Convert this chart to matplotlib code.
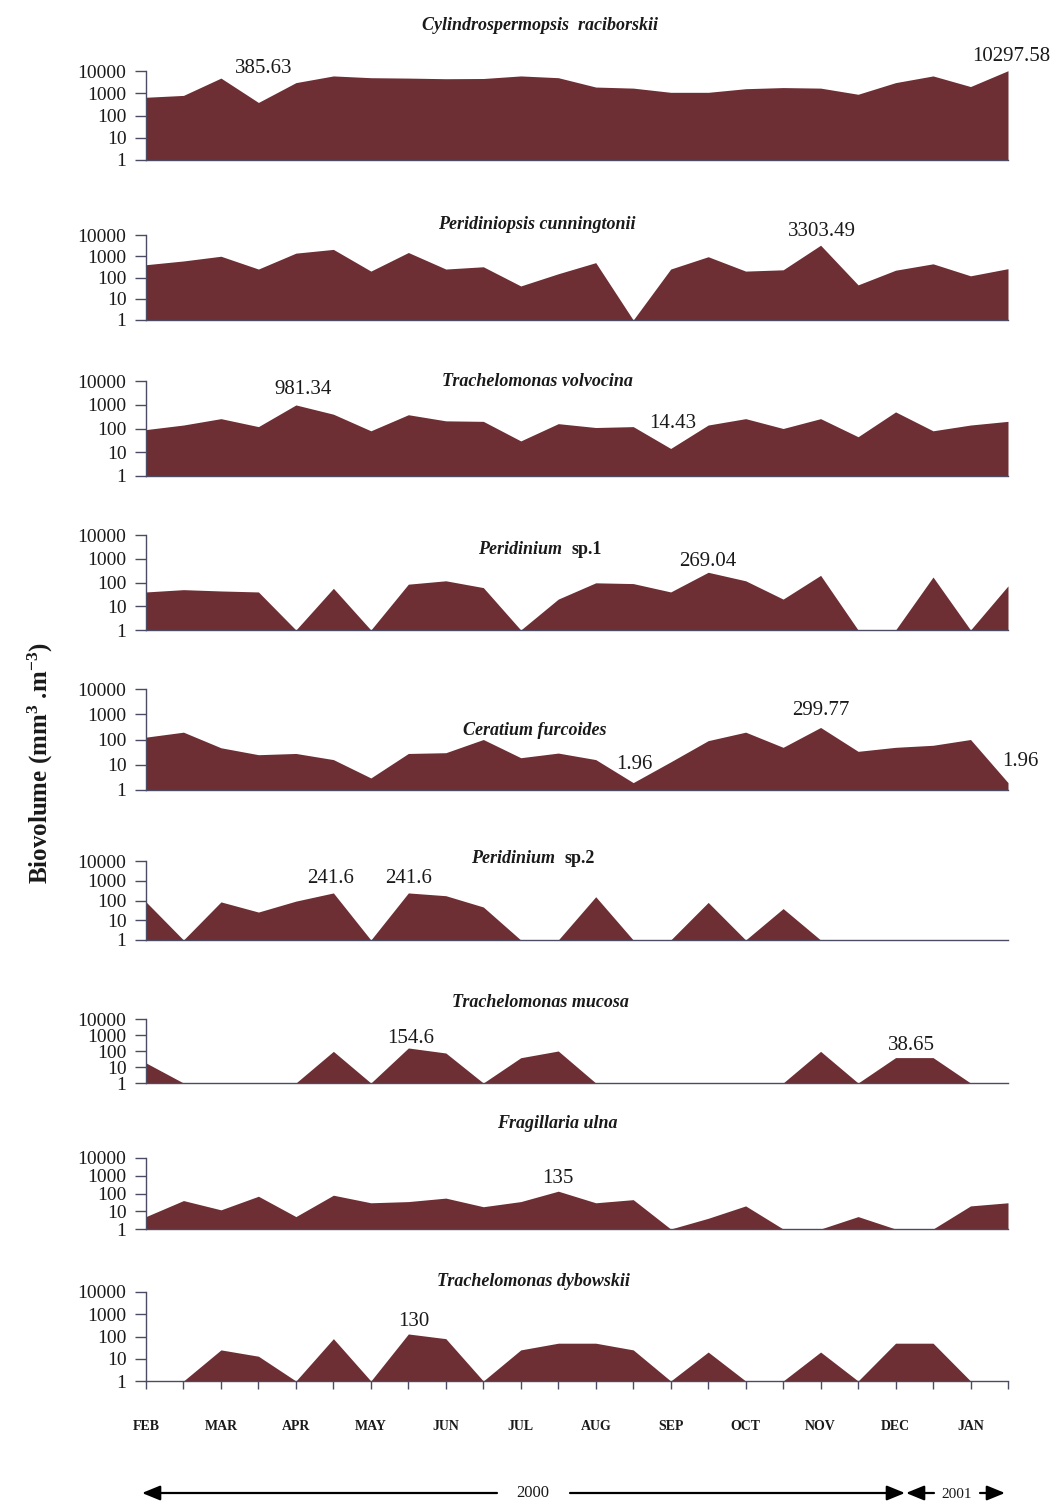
import matplotlib
matplotlib.use("Agg")
import matplotlib.pyplot as plt
from matplotlib.ticker import FixedLocator, FixedFormatter, NullLocator

plt.rcParams['font.family'] = ['Liberation Serif', 'DejaVu Serif']
plt.rcParams['mathtext.fontset'] = 'custom'
plt.rcParams['mathtext.rm'] = 'Liberation Serif'
plt.rcParams['mathtext.it'] = 'Liberation Serif:italic'
plt.rcParams['mathtext.bf'] = 'Liberation Serif:bold'

# Sampling dates: two per month, Feb 2000 - Jan 2001
months = ["FEB", "MAR", "APR", "MAY", "JUN", "JUL", "AUG", "SEP", "OCT", "NOV", "DEC", "JAN"]
samples = list(range(24))

# Biovolume (mm3 m-3) per sample; 1 marks absence on the log axis
cylindrospermopsis = [660, 800, 4800, 385.63, 3000, 6000, 5000, 4800, 4500, 4600, 6000, 5000,
                      1900, 1700, 1100, 1100, 1600, 1800, 1700, 900, 3000, 6000, 2000, 10297.58]
peridiniopsis = [400, 600, 1000, 250, 1400, 2100, 200, 1500, 250, 320, 40, 150,
                 500, 1, 250, 950, 200, 230, 3303.49, 45, 220, 440, 120, 260]
trach_volvocina = [90, 140, 260, 120, 981.34, 400, 80, 380, 210, 200, 30, 160,
                   110, 120, 14.43, 140, 260, 100, 260, 45, 500, 80, 140, 200]
peridinium_sp1 = [40, 50, 44, 40, 1, 57, 1, 85, 118, 61, 1, 20,
                  97, 90, 40, 269.04, 118, 20, 200, 1, 1, 170, 1, 72]
ceratium = [124, 195, 47, 25, 28, 16, 3, 28, 30, 100, 19, 29,
            16, 1.96, 13, 90, 195, 49, 299.77, 34, 49, 59, 100, 1.96]
peridinium_sp2 = [85, 1, 85, 26, 93, 241.6, 1, 241.6, 175, 47, 1, 1,
                  155, 1, 1, 80, 1, 39, 1, 1, 1, 1, 1, 1]
trach_mucosa = [18, 1, 1, 1, 1, 95, 1, 154.6, 75, 1, 38, 100,
                1, 1, 1, 1, 1, 1, 95, 1, 38.65, 38.65, 1, 1]
fragillaria = [5, 40, 12, 70, 5, 80, 30, 35, 55, 18, 35, 135,
               30, 45, 1, 4, 20, 1, 1, 5, 1, 1, 20, 30]
trach_dybowskii = [1, 1, 25, 13, 1, 80, 1, 130, 80, 1, 25, 50,
                   50, 25, 1, 20, 1, 1, 20, 1, 50, 50, 1, 1]

# Species names: (italic part, upright part)
titles = [("Cylindrospermopsis  raciborskii", ""),
          ("Peridiniopsis cunningtonii", ""),
          ("Trachelomonas volvocina", ""),
          ("Peridinium", "sp.1"),
          ("Ceratium furcoides", ""),
          ("Peridinium", "sp.2"),
          ("Trachelomonas mucosa", ""),
          ("Fragillaria ulna", ""),
          ("Trachelomonas dybowskii", "")]
series = [cylindrospermopsis, peridiniopsis, trach_volvocina, peridinium_sp1, ceratium,
          peridinium_sp2, trach_mucosa, fragillaria, trach_dybowskii]

# Annotated values per panel: (sample index, value, offset in pixels)
annotations = [
    [(3, 385.63, (5, 34)), (23, 10297.58, (3, 14))],
    [(18, 3303.49, (1, 14))],
    [(4, 981.34, (7, 15)), (14, 14.43, (2, 25))],
    [(15, 269.04, (0, 11))],
    [(18, 299.77, (0, 17)), (13, 1.96, (1, 18)), (23, 1.96, (12, 21))],
    [(5, 241.6, (-3, 14)), (7, 241.6, (0, 14))],
    [(7, 154.6, (2, 9)), (20, 38.65, (16, 12))],
    [(11, 135, (0, 13))],
    [(7, 130, (5, 12))],
]

W, H = 1052, 1506
fig = plt.figure(figsize=(W / 100, H / 100), dpi=100)
fig.patch.set_facecolor("white")

x_left, x_right = 146, 1008
panel_rows = [(71, 160), (235, 320), (381, 476), (535, 630), (689, 790),
              (861, 940), (1019, 1083), (1158, 1229), (1292, 1381)]
title_pos = [(540, 25), (537, 224), (537, 381), (540, 549), (535, 730),
             (533, 858), (540, 1002), (557, 1123), (533, 1281)]

fill_color = "#6d2e34"
axis_color = "#4b4b63"
text_color = "#1a1a1a"

for k, (vals, (top, bot)) in enumerate(zip(series, panel_rows)):
    ax = fig.add_axes([x_left / W, 1 - bot / H, (x_right - x_left) / W, (bot - top) / H])
    ax.set_yscale("log")
    ax.set_ylim(1, 10000)
    ax.set_xlim(0, 23)
    ax.fill_between(samples, 1, vals, color=fill_color, linewidth=0, clip_on=False, zorder=2)
    for side in ("top", "right"):
        ax.spines[side].set_visible(False)
    for side in ("left", "bottom"):
        ax.spines[side].set_color(axis_color)
        ax.spines[side].set_linewidth(1.0)
        ax.spines[side].set_zorder(3)
    ax.yaxis.set_major_locator(FixedLocator([1, 10, 100, 1000, 10000]))
    ax.yaxis.set_major_formatter(FixedFormatter(["1", "10", "100", "1000", "10000"]))
    ax.yaxis.set_minor_locator(NullLocator())
    ax.tick_params(axis="y", direction="out", length=8, width=1, color=axis_color,
                   labelsize=14, labelcolor=text_color, pad=6)
    if k == len(series) - 1:
        ax.set_xticks(samples)
        ax.set_xticklabels([months[i // 2] if i % 2 == 0 else "" for i in samples],
                           fontsize=10, fontweight="bold", color=text_color)
        ax.tick_params(axis="x", direction="out", length=6, width=1, color=axis_color, pad=22)
    else:
        ax.set_xticks([])
    ax.patch.set_alpha(0)

    for idx, val, (dx, dy) in annotations[k]:
        ax.annotate("%.7g" % val, xy=(idx, val), xytext=(dx, dy), textcoords="offset pixels",
                    ha="center", va="center", fontsize=15, color=text_color, annotation_clip=False)

# Overlay in pixel units for titles, axis label and year arrows
ov = fig.add_axes([0, 0, 1, 1])
ov.set_xlim(0, W)
ov.set_ylim(H, 0)
ov.axis("off")
ov.patch.set_alpha(0)

renderer = fig.canvas.get_renderer()
for (ital, upright), (tx, ty) in zip(titles, title_pos):
    t1 = ov.text(tx, ty, ital, ha="left", va="center", fontsize=13, fontstyle="italic",
                 fontweight="bold", color=text_color)
    w1 = t1.get_window_extent(renderer).width
    if upright:
        gap = 9
        t2 = ov.text(tx, ty, upright, ha="left", va="center", fontsize=13,
                     fontweight="bold", color=text_color)
        w2 = t2.get_window_extent(renderer).width
        start = tx - (w1 + gap + w2) / 2
        t1.set_x(start)
        t2.set_x(start + w1 + gap)
    else:
        t1.set_x(tx - w1 / 2)

ov.text(40, 763, r"Biovolume (mm$^{\mathbf{3}}$ .m$^{\mathbf{-3}}$)", rotation=90,
        ha="center", va="center", fontsize=18, fontweight="bold", color=text_color)

arrow_kw = dict(arrowstyle="-|>,head_length=1.1,head_width=0.45", color="black", lw=1.6,
                shrinkA=0, shrinkB=0)
year_y = 1493
ov.annotate("", xy=(142, year_y), xytext=(497, year_y), arrowprops=arrow_kw)
ov.annotate("", xy=(905, year_y), xytext=(570, year_y), arrowprops=arrow_kw)
ov.text(533, year_y, "2000", ha="center", va="center", fontsize=12, color=text_color)
ov.annotate("", xy=(906, year_y), xytext=(934, year_y), arrowprops=arrow_kw)
ov.annotate("", xy=(1005, year_y), xytext=(980, year_y), arrowprops=arrow_kw)
ov.text(957, year_y + 2, "2001", ha="center", va="center", fontsize=11, color=text_color)

fig.savefig("out.png", dpi=100, facecolor="white")
